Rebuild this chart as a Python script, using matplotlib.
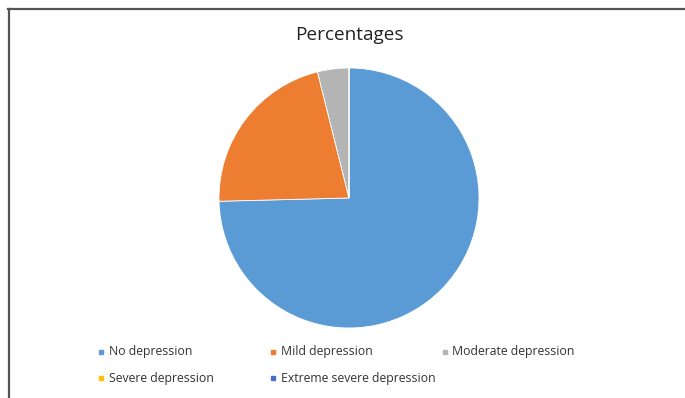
import matplotlib
matplotlib.use('Agg')
from matplotlib import pyplot as plt
from matplotlib.lines import Line2D

categories = ['No depression', 'Mild depression', 'Moderate depression',
              'Severe depression', 'Extreme severe depression']
percentages = [74.6, 21.5, 3.9, 0.0, 0.0]
colors = ['#5B9BD5', '#ED7D31', '#B4B4B4', '#FFC000', '#4472C4']

plt.rcParams['font.family'] = ['Open Sans', 'DejaVu Sans']

fig = plt.figure(figsize=(6.85, 3.98), dpi=100)

# chart frame (left and top edges visible)
fig.add_artist(Line2D([0.0125, 0.0125], [0.0, 0.978], color='#555555', lw=1.6,
                      transform=fig.transFigure))
fig.add_artist(Line2D([0.0115, 1.0], [0.978, 0.978], color='#555555', lw=1.6,
                      transform=fig.transFigure))

fig.text(0.5095, 0.912, 'Percentages', ha='center', va='center',
         fontsize=13.7, color='#222222')

ax = fig.add_axes([0.3197, 0.1759, 0.3796, 0.6533])
ax.pie(percentages, colors=colors, startangle=90, counterclock=False,
       radius=1.0, wedgeprops=dict(edgecolor='white', linewidth=0.6))
ax.set_xlim(-1, 1)
ax.set_ylim(-1, 1)
ax.set_aspect('equal')
ax.axis('off')

# legend laid out like the original (3 columns)
col_x = [0.1475, 0.3985, 0.6495]
row_y = [0.116, 0.050]
for i, (lab, c) in enumerate(zip(categories, colors)):
    x = col_x[i % 3]
    y = row_y[i // 3]
    fig.add_artist(Line2D([x], [y], marker='s', markersize=3.2, color=c,
                          linestyle='none', transform=fig.transFigure))
    fig.text(x + 0.011, y, lab, ha='left', va='center', fontsize=8.8,
             color='#333333')

fig.savefig('out.png', dpi=100)
